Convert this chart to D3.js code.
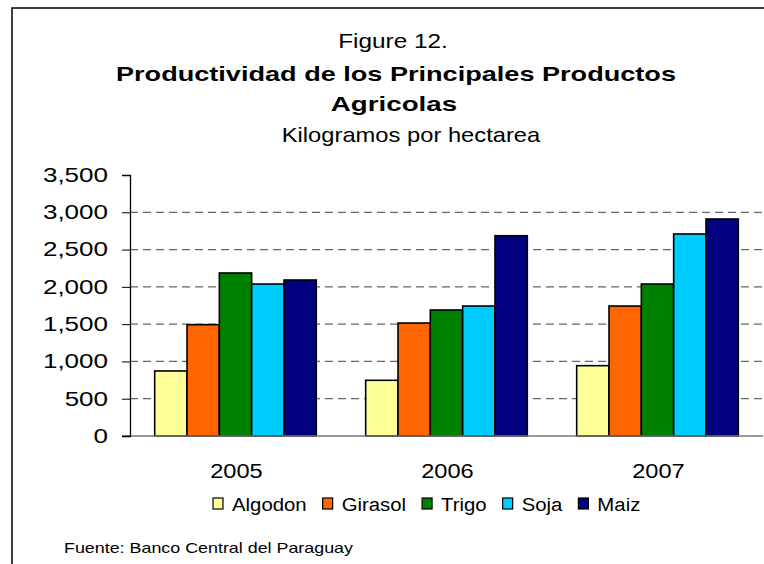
<!DOCTYPE html>
<html>
<head>
<meta charset="utf-8">
<script src="https://cdn.jsdelivr.net/npm/d3@7.9.0/dist/d3.min.js"></script>
<style>
  body { margin: 0; background: #fff; }
  svg { display: block; font-family: "Liberation Sans", Arial, sans-serif; }
</style>
</head>
<body>
<svg id="chart" width="764" height="564"></svg>
<script>
// data
const years = ['2005', '2006', '2007'];
const crops = ['Algodon', 'Girasol', 'Trigo', 'Soja', 'Maiz'];
const algodon = [872, 747, 943];
const girasol = [1493, 1515, 1743];
const trigo = [2186, 1690, 2038];
const soja = [2038, 1743, 2709];
const maiz = [2092, 2686, 2910];
const yTicks = [0, 500, 1000, 1500, 2000, 2500, 3000, 3500];

const series = [algodon, girasol, trigo, soja, maiz];
const colors = ['#ffff99', '#ff6600', '#008000', '#00ccff', '#000080'];

const svg = d3.select('#chart');

// the original picture is a bit wide, so text gets stretched sideways
function stretch(sel, k) {
  sel.each(function () {
    const w = this.getComputedTextLength();
    d3.select(this).attr('textLength', w * k).attr('lengthAdjust', 'spacingAndGlyphs');
  });
  return sel;
}

// frame
svg.append('rect')
  .attr('x', 12).attr('y', 8)
  .attr('width', 800).attr('height', 600)
  .attr('fill', 'none').attr('stroke', '#000').attr('stroke-width', 1.5);

// titles
svg.append('text').attr('x', 393).attr('y', 48).attr('text-anchor', 'middle')
  .attr('font-size', 21).text('Figure 12.').call(stretch, 1.16);
svg.append('text').attr('x', 396).attr('y', 81).attr('text-anchor', 'middle')
  .attr('font-size', 21).attr('font-weight', 'bold')
  .text('Productividad de los Principales Productos').call(stretch, 1.29);
svg.append('text').attr('x', 394).attr('y', 111).attr('text-anchor', 'middle')
  .attr('font-size', 21).attr('font-weight', 'bold').text('Agricolas').call(stretch, 1.32);
svg.append('text').attr('x', 411).attr('y', 142).attr('text-anchor', 'middle')
  .attr('font-size', 21).text('Kilogramos por hectarea').call(stretch, 1.13);

// scales
const x0 = d3.scaleBand().domain(years).range([130, 763])
  .paddingInner(0.234).paddingOuter(0.117);
const x1 = d3.scaleBand().domain(crops).range([0, x0.bandwidth()]);
const y = d3.scaleLinear().domain([0, 3500]).range([436, 175]);

// gridlines
svg.append('g').selectAll('line')
  .data(yTicks.filter(d => d > 0 && d < 3500))
  .join('line')
  .attr('x1', 130).attr('x2', 763)
  .attr('y1', d => y(d)).attr('y2', d => y(d))
  .attr('stroke', '#666').attr('stroke-width', 1.3)
  .attr('stroke-dasharray', '8,5');

// bars
const groups = svg.append('g').selectAll('g')
  .data(years)
  .join('g')
  .attr('transform', d => `translate(${x0(d)},0)`);

groups.selectAll('rect')
  .data((yr, i) => crops.map((c, k) => ({ crop: c, value: series[k][i], k })))
  .join('rect')
  .attr('x', d => x1(d.crop))
  .attr('y', d => y(d.value))
  .attr('width', x1.bandwidth())
  .attr('height', d => y(0) - y(d.value))
  .attr('fill', d => colors[d.k])
  .attr('stroke', '#000').attr('stroke-width', 1.6);

// baseline
svg.append('line')
  .attr('x1', 122).attr('x2', 763)
  .attr('y1', y(0)).attr('y2', y(0))
  .attr('stroke', '#777').attr('stroke-width', 1.5);

// y axis
const yAxis = svg.append('g')
  .attr('transform', 'translate(130,0)')
  .call(d3.axisLeft(y).tickValues(yTicks).tickFormat(d3.format(',')).tickSizeOuter(0).tickSize(8).tickPadding(14));
yAxis.select('.domain').attr('stroke', '#000').attr('stroke-width', 1.3);
yAxis.selectAll('.tick line').attr('stroke', '#000');
yAxis.selectAll('.tick text')
  .attr('font-family', '"Liberation Sans", Arial, sans-serif')
  .attr('font-size', 20).attr('fill', '#000')
  .call(stretch, 1.3);

// x labels
svg.append('g').selectAll('text')
  .data(years)
  .join('text')
  .attr('x', d => x0(d) + x0.bandwidth() / 2 + 1)
  .attr('y', 478)
  .attr('text-anchor', 'middle')
  .attr('font-size', 20)
  .text(d => d)
  .call(stretch, 1.18);

// legend, laid out left to right
const legend = svg.append('g').attr('transform', 'translate(0,504)');
let lx = 213;
crops.forEach((c, i) => {
  legend.append('rect')
    .attr('x', lx).attr('y', -6).attr('width', 10).attr('height', 11)
    .attr('fill', colors[i])
    .attr('stroke', '#000').attr('stroke-width', 1.2);
  const t = legend.append('text')
    .attr('x', lx + 19).attr('y', 6.5)
    .attr('font-size', 18)
    .text(c)
    .call(stretch, 1.13);
  lx += 19 + (+t.attr('textLength')) + 16;
});

// source note
svg.append('text').attr('x', 64).attr('y', 553)
  .attr('font-size', 14.5)
  .text('Fuente: Banco Central del Paraguay')
  .attr('textLength', 289).attr('lengthAdjust', 'spacingAndGlyphs');
</script>
</body>
</html>
